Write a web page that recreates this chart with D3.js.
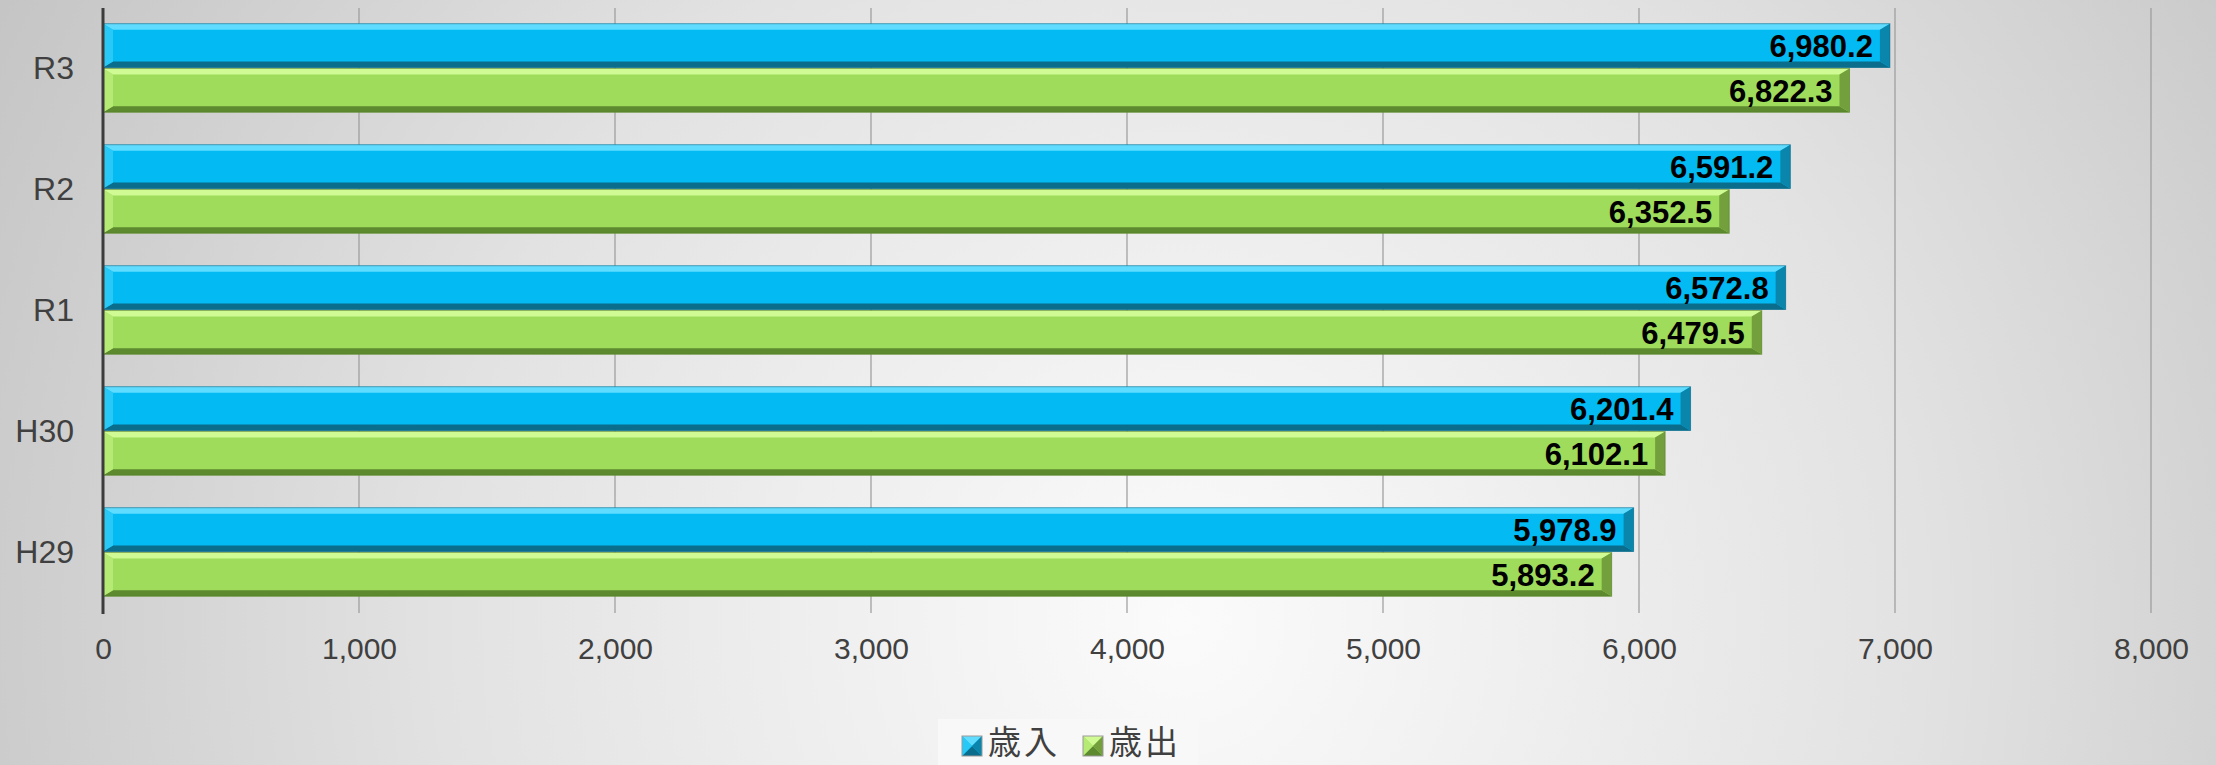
<!DOCTYPE html>
<html>
<head>
<meta charset="utf-8">
<script src="https://cdn.jsdelivr.net/npm/d3@7"></script>
<style>
html,body{margin:0;padding:0;overflow:hidden;}
svg{display:block;}
</style>
</head>
<body>
<script>
var categories = ['R3','R2','R1','H30','H29'];
var seriesNames = ['歳入','歳出'];
var revenue = [6980.2, 6591.2, 6572.8, 6201.4, 5978.9];
var expenditure = [6822.3, 6352.5, 6479.5, 6102.1, 5893.2];
var tickValues = [0,1000,2000,3000,4000,5000,6000,7000,8000];

var W = 2216, H = 765;
var latin = '"Liberation Sans", Arial, sans-serif';
var cjk = '"Noto Sans CJK JP", "Noto Sans", sans-serif';

// colour sets per series: main, top light, bottom dark, right end, left end
var palette = [
	{main:'#03baf2', top:'#5fdcff', bottom:'#0b6d8c', right:'#0a86ad', left:'#28c8f7', dark:'#0d5f7a'},
	{main:'#9fdc5b', top:'#d0fa93', bottom:'#5d8a2f', right:'#739f3c', left:'#b5ea75', dark:'#4e7826'}
];

var svg = d3.select('body').append('svg').attr('width',W).attr('height',H);
var defs = svg.append('defs');

var bg = defs.append('radialGradient').attr('id','bg')
	.attr('gradientUnits','userSpaceOnUse')
	.attr('cx',1180).attr('cy',620).attr('r',1350);
bg.append('stop').attr('offset','0%').attr('stop-color','#fbfbfb');
bg.append('stop').attr('offset','55%').attr('stop-color','#e2e2e2');
bg.append('stop').attr('offset','100%').attr('stop-color','#c4c4c4');
svg.append('rect').attr('width',W).attr('height',H).attr('fill','url(#bg)');

var x = d3.scaleLinear().domain([0,8000]).range([103,2151]);
var y = d3.scaleBand().domain(categories).range([8,613]).paddingInner(0.26).paddingOuter(0.13);
var ySub = d3.scaleBand().domain([0,1]).range([0,y.bandwidth()]);

// gridlines
svg.append('g').selectAll('line').data(tickValues.slice(1)).enter()
	.append('line')
	.attr('x1',function(d){return x(d);}).attr('x2',function(d){return x(d);})
	.attr('y1',8).attr('y2',613)
	.attr('stroke','#9a9a9a').attr('stroke-width',1.2);

// bars
var rows = [];
categories.forEach(function(c,i){
	rows.push({cat:c, s:0, v:revenue[i]});
	rows.push({cat:c, s:1, v:expenditure[i]});
});

var bh = ySub.bandwidth();
var bx = 10, byT = 6, byB = 6;
var barG = svg.append('g');
var bars = barG.selectAll('g.bar').data(rows).enter().append('g').attr('class','bar')
	.attr('transform',function(d){return 'translate(0,'+(y(d.cat)+ySub(d.s))+')';});

bars.each(function(d){
	var g = d3.select(this);
	var p = palette[d.s];
	var x0 = x(0), x1 = x(d.v), h = bh - 1;
	g.append('rect').attr('x',x0).attr('y',0).attr('width',x1-x0).attr('height',h).attr('fill',p.main);
	// top highlight
	g.append('polygon').attr('points',[[x0,0],[x1,0],[x1-bx,byT],[x0+bx,byT]].join(' ')).attr('fill',p.top);
	// bottom shade
	g.append('polygon').attr('points',[[x0,h],[x1,h],[x1-bx,h-byB],[x0+bx,h-byB]].join(' ')).attr('fill',p.bottom);
	// left end
	g.append('polygon').attr('points',[[x0,0],[x0+bx,byT],[x0+bx,h-byB],[x0,h]].join(' ')).attr('fill',p.left);
	// right end
	g.append('polygon').attr('points',[[x1,0],[x1-bx,byT],[x1-bx,h-byB],[x1,h]].join(' ')).attr('fill',p.right);
	g.append('rect').attr('x',x0).attr('y',0).attr('width',x1-x0).attr('height',h)
		.attr('fill','none').attr('stroke',p.dark).attr('stroke-width',1).attr('stroke-opacity',0.5);
});

// value labels
bars.append('text')
	.attr('x',function(d){return x(d.v)-17;})
	.attr('y',bh/2)
	.attr('dy','0.36em')
	.attr('text-anchor','end')
	.attr('font-family',latin).attr('font-weight','bold').attr('font-size',31)
	.attr('fill','#000')
	.text(function(d){return d3.format(',.1f')(d.v);});

// y axis line
svg.append('line').attr('x1',103).attr('x2',103).attr('y1',8).attr('y2',614)
	.attr('stroke','#3c3c3c').attr('stroke-width',3);

// category labels
var yAxis = d3.axisLeft(y).tickSize(0).tickPadding(29);
var yG = svg.append('g').attr('transform','translate(103,0)').call(yAxis);
yG.select('.domain').remove();
yG.selectAll('text').attr('font-family',latin).attr('font-size',32).attr('fill','#404040');

// x tick labels
var xAxis = d3.axisBottom(x).tickValues(tickValues).tickSize(0).tickPadding(25).tickFormat(d3.format(','));
var xG = svg.append('g').attr('transform','translate(0,613)').call(xAxis);
xG.select('.domain').remove();
xG.selectAll('text').attr('font-family',latin).attr('font-size',30).attr('fill','#404040');

// legend
var lg = svg.append('g');
lg.append('rect').attr('x',938).attr('y',719).attr('width',260).attr('height',50).attr('fill','#f8f8f8');
var legX = d3.scaleOrdinal().domain(seriesNames).range([962,1083]);
var items = lg.selectAll('g.item').data(seriesNames).enter().append('g').attr('class','item')
	.attr('transform',function(d){return 'translate('+legX(d)+',736)';});
items.each(function(d,i){
	var g = d3.select(this);
	var p = palette[i], s = 20;
	g.append('rect').attr('width',s).attr('height',s).attr('fill',p.main);
	g.append('polygon').attr('points',[[0,0],[s,0],[s/2,s/2]].join(' ')).attr('fill',p.top);
	g.append('polygon').attr('points',[[0,s],[s,s],[s/2,s/2]].join(' ')).attr('fill',p.bottom);
	g.append('polygon').attr('points',[[s,0],[s,s],[s/2,s/2]].join(' ')).attr('fill',p.right);
	g.append('polygon').attr('points',[[0,0],[0,s],[s/2,s/2]].join(' ')).attr('fill',p.left);
	g.append('rect').attr('width',s).attr('height',s).attr('fill','none').attr('stroke','#999').attr('stroke-width',1);
	g.append('text').attr('x',s+6).attr('y',18)
		.attr('font-family',cjk).attr('font-size',33).attr('fill','#404040')
		.attr('letter-spacing',3)
		.text(d);
});
</script>
</body>
</html>
